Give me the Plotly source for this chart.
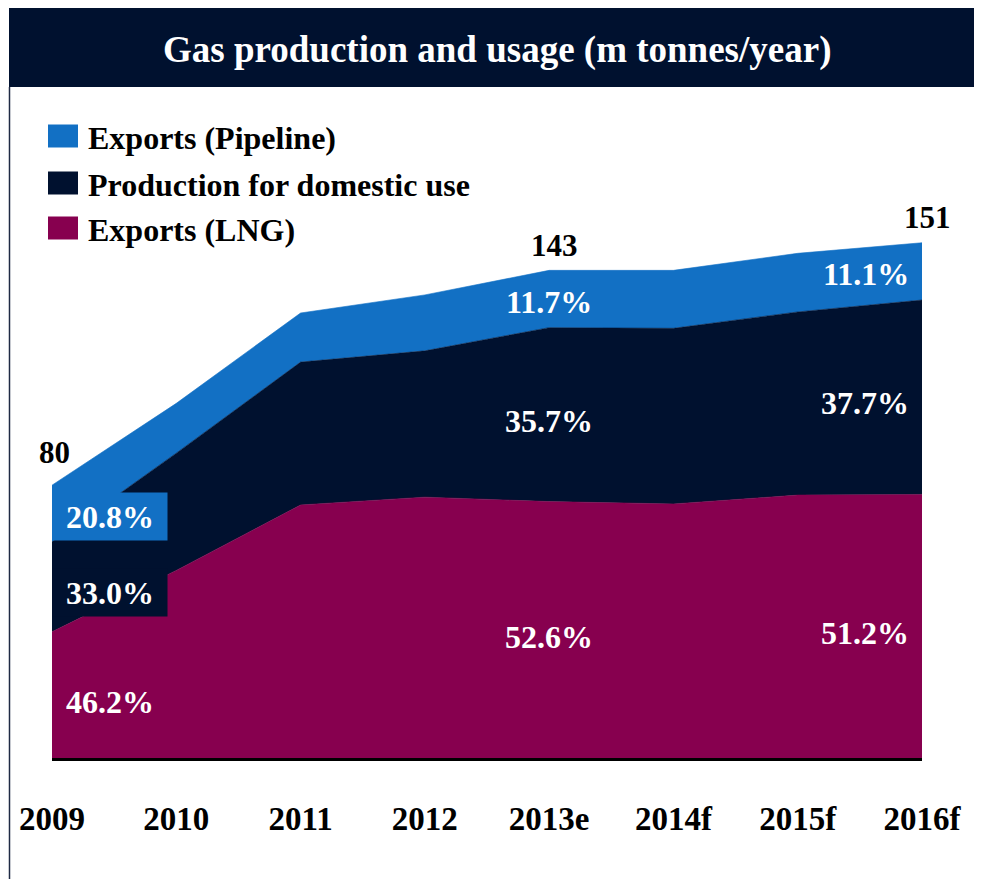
import plotly.graph_objects as go

years = ["2009", "2010", "2011", "2012", "2013e", "2014f", "2015f", "2016f"]
exports_lng = [37.0, 55.0, 74.2, 76.5, 75.2, 74.5, 77.1, 77.3]
domestic = [26.4, 34.4, 41.9, 42.9, 51.0, 51.5, 53.7, 57.0]
exports_pipeline = [16.6, 14.6, 14.4, 16.4, 16.8, 17.0, 17.2, 16.8]

# labelled years: index into years, share labels (LNG, domestic, pipeline), total
label_idx = [0, 4, 7]
lng_share = ["46.2%", "52.6%", "51.2%"]
dom_share = ["33.0%", "35.7%", "37.7%"]
pipe_share = ["20.8%", "11.7%", "11.1%"]
totals = ["80", "143", "151"]

NAVY = "#00112F"
BLUE = "#1270C4"
MAROON = "#87004F"
FONT = "Liberation Serif"

# page puts the figure 8px in from the corner
OFF = 8
W, H = 982 - OFF, 879 - OFF
L, R, T, B = 52 - OFF, 60, 88 - OFF, 121
PW, PH = W - L - R, H - T - B


def px(x, y):
    ''' reference pixel position -> paper coordinates '''
    return (x - OFF - L) / PW, (H - B - (y - OFF)) / PH


x = list(range(len(years)))
fig = go.Figure()
for name, vals, col in [("Exports (LNG)", exports_lng, MAROON),
                        ("Production for domestic use", domestic, NAVY),
                        ("Exports (Pipeline)", exports_pipeline, BLUE)]:
    fig.add_trace(go.Scatter(
        x=x, y=vals, name=name, stackgroup="one", mode="lines",
        line=dict(width=0.6, color=col), fillcolor=col, showlegend=False,
        hoverinfo="skip"
    ))

# title bar + left border
x0, y0 = px(9, 8)
x1, y1 = px(990, 87)
fig.add_shape(type="rect", xref="paper", yref="paper", x0=x0, x1=x1, y0=y1, y1=y0,
              fillcolor=NAVY, line=dict(width=0), layer="above")
bx, by = px(9.5, 890)
fig.add_shape(type="line", xref="paper", yref="paper", x0=bx, x1=bx, y0=by, y1=y1,
              line=dict(color="#1F2A44", width=1.5))
tx, ty = px(497, 50)
fig.add_annotation(text="<b>Gas production and usage (m tonnes/year)</b>", xref="paper",
                   yref="paper", x=tx, y=ty, xanchor="center", yanchor="middle",
                   showarrow=False, font=dict(family=FONT, size=37, color="white"))

# legend drawn by hand (square swatches)
legend_rows = [("Exports (Pipeline)", BLUE, 136), ("Production for domestic use", NAVY, 183),
               ("Exports (LNG)", MAROON, 228)]
for name, col, cy in legend_rows:
    sx0, sy0 = px(48, cy - 11.5)
    sx1, sy1 = px(78, cy + 11.5)
    fig.add_shape(type="rect", xref="paper", yref="paper", x0=sx0, x1=sx1, y0=sy1, y1=sy0,
                  fillcolor=col, line=dict(width=0))
    lx, ly = px(86, cy + 2)
    fig.add_annotation(text=f"<b>{name}</b>", xref="paper", yref="paper", x=lx, y=ly,
                       xanchor="left", yanchor="middle", showarrow=False,
                       font=dict(family=FONT, size=32, color="black"))

# share labels
total_shift = [13, 5, 6]
for k, i in enumerate(label_idx):
    lng, dom, pipe = exports_lng[i], domestic[i], exports_pipeline[i]
    mids = [(lng / 2, lng_share[k], MAROON, -7),
            (lng + dom / 2, dom_share[k], NAVY, -6),
            (lng + dom + pipe / 2, pipe_share[k], BLUE, -3)]
    for yv, txt, col, ys in mids:
        kw = dict(x=i, y=yv, text=f"<b>{txt}</b>", showarrow=False, yshift=ys,
                  font=dict(family=FONT, size=32, color="white"))
        if i == 0:
            kw.update(xanchor="left", width=112, height=45, align="center")
            if col != MAROON:
                kw.update(bgcolor=col)
        elif i == len(years) - 1:
            kw.update(xanchor="right", xshift=-11)
        fig.add_annotation(**kw)
    total = lng + dom + pipe
    fig.add_annotation(x=i, y=total, text=f"<b>{totals[k]}</b>", showarrow=False,
                       yanchor="bottom", yshift=total_shift[k], xshift=2 if i == 0 else 5,
                       font=dict(family=FONT, size=31, color="black"))

fig.update_layout(
    width=W, height=H,
    margin=dict(l=L, r=R, t=T, b=B),
    plot_bgcolor="white", paper_bgcolor="white",
    showlegend=False,
    xaxis=dict(range=[0, len(years) - 1], tickvals=x, ticktext=[f"<b>{y}</b>" for y in years],
               showgrid=False, zeroline=False, showline=True, linecolor="black", linewidth=3,
               ticks="", ticklabelstandoff=29,
               tickfont=dict(family=FONT, size=33, color="black")),
    yaxis=dict(range=[0, PH / 3.41], showgrid=False, zeroline=False, showticklabels=False,
               showline=False),
)

fig.write_html("out.html")
